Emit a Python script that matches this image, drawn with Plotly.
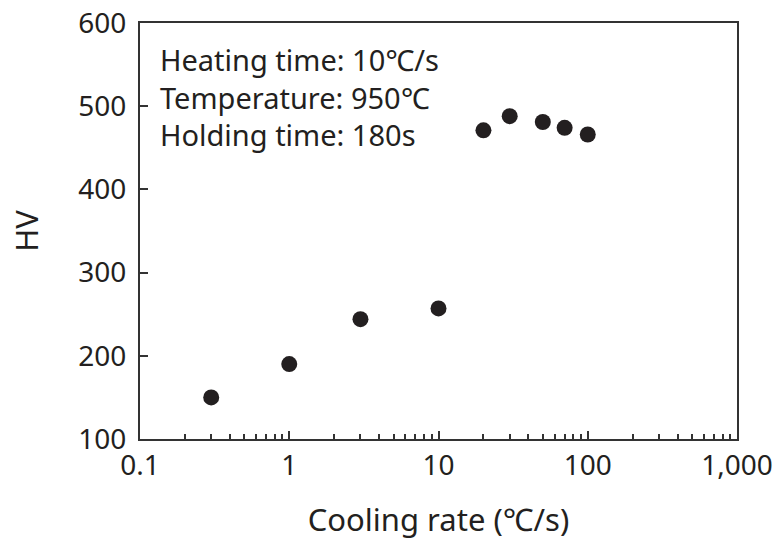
import plotly.graph_objects as go

cooling_rate = [0.3, 1, 3, 10, 20, 30, 50, 70, 100]
hv = [150, 190, 244, 257, 471, 488, 481, 474, 466]

x_tickvals = [0.1, 1, 10, 100, 1000]
x_ticktext = ["0.1", "1", "10", "100", "1,000"]
y_tickvals = [100, 200, 300, 400, 500, 600]
minor_vals = [m * d for d in [0.1, 1, 10, 100] for m in range(2, 10)]

font_family = "Noto Sans"
ink = "#231f20"

fig = go.Figure()
fig.add_trace(go.Scatter(
    x=cooling_rate, y=hv, mode="markers",
    marker=dict(size=16, color=ink, line=dict(width=0)),
    showlegend=False,
))

fig.add_annotation(
    xref="paper", yref="paper", x=0.03, y=0.965,
    xanchor="left", yanchor="top", align="left", showarrow=False,
    text="Heating time: 10℃/s<br>Temperature: 950℃<br>Holding time: 180s",
    font=dict(family=font_family, size=29, color=ink),
)

axis_common = dict(
    showline=True, linecolor="#333333", linewidth=2, mirror=True,
    showgrid=False, zeroline=False, ticks="inside", tickcolor="#333333",
    tickfont=dict(family=font_family, size=28, color=ink), automargin=False,
)

fig.update_xaxes(
    type="log", range=[-1, 3],
    tickvals=x_tickvals, ticktext=x_ticktext, ticklen=8, tickwidth=1.5,
    minor=dict(tickvals=minor_vals, ticks="inside", ticklen=5, tickwidth=1.5, tickcolor="#333333", showgrid=False),
    title=dict(text="Cooling rate (℃/s)", font=dict(family=font_family, size=31, color=ink), standoff=28),
    **axis_common,
)
fig.update_yaxes(
    range=[100, 600], tickvals=y_tickvals, ticklen=8, tickwidth=1.5, ticklabelstandoff=6,
    title=dict(text="HV", font=dict(family=font_family, size=31, color=ink), standoff=30),
    **axis_common,
)

fig.update_layout(
    width=774, height=548,
    margin=dict(l=140, r=37, t=23, b=109),
    plot_bgcolor="white", paper_bgcolor="white",
)

fig.write_html("out.html")
